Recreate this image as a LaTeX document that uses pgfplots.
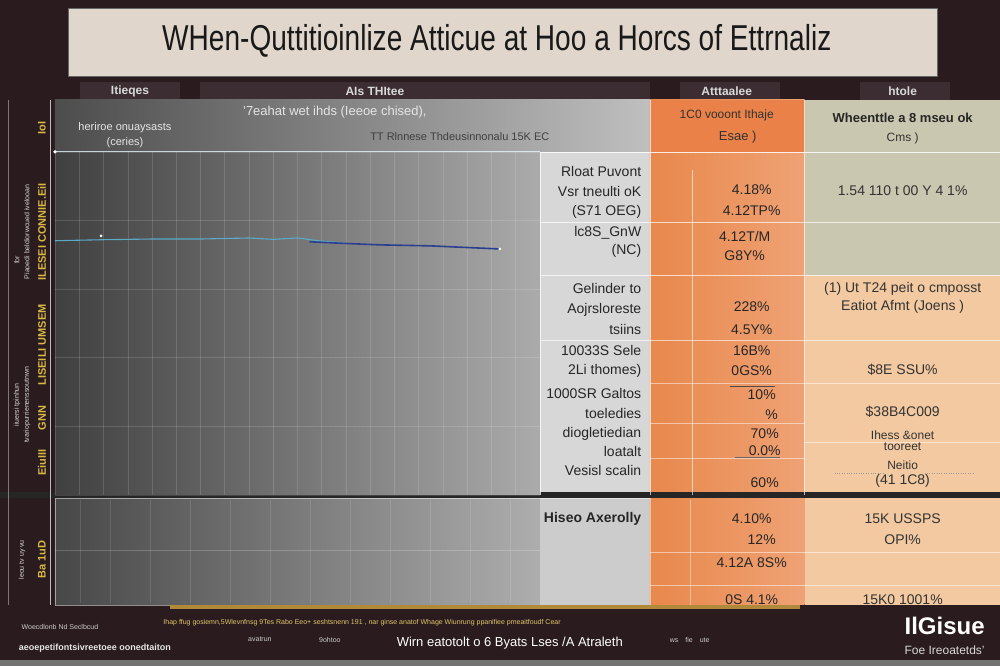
\documentclass[border=0pt]{standalone}
\usepackage{pgfplots}
\pgfplotsset{compat=1.18}
\usepackage{fontspec}
\setmainfont{Liberation Sans}
\definecolor{bgd}{HTML}{2A1B1F}
\definecolor{titlebg}{HTML}{E0D6CC}
\definecolor{hdr}{HTML}{3B2D31}
\definecolor{org}{HTML}{E8884C}
\definecolor{orgl}{HTML}{EFA275}
\definecolor{olive}{HTML}{C9C7AF}
\definecolor{peach}{HTML}{F2C9A0}
\definecolor{lgray}{HTML}{D7D7D7}
\definecolor{ylw}{HTML}{D9B843}
\definecolor{gold}{HTML}{B08A3A}
\definecolor{cyanl}{HTML}{5AAAC8}
\definecolor{dblue}{HTML}{2B3F8F}
\newcommand{\fs}[1]{\fontsize{#1}{#1}\selectfont}
\begin{document}
\begin{tikzpicture}
\begin{axis}[at={(500pt,333pt)}, anchor=center, width=1000pt, height=666pt, scale only axis,
  xmin=0, xmax=1000, ymin=0, ymax=666, y dir=reverse, hide axis, clip=false]
% background
\fill[bgd] (0,0) rectangle (1000,666);
\fill[black!55] (0,660) rectangle (1000,666);
% title box
\fill[titlebg] (68,8) rectangle (938,76);
\draw[black!60, line width=0.6pt] (68,8) rectangle (938,76);
\node[xscale=0.78, font=\fs{36}, black!90] at (497,41) {WHen-Quttitioinlize Atticue at Hoo a Horcs of Ettrnaliz};
% header labels
\fill[hdr] (80,82) rectangle (180,100);
\fill[hdr] (200,82) rectangle (650,100);
\fill[hdr] (680,82) rectangle (780,100);
\fill[hdr] (860,82) rectangle (950,100);
\node[white!85!black, font=\bfseries\fs{12}] at (130,91) {Itieqes};
\node[white!85!black, font=\bfseries\fs{12}] at (375,91) {AIs THItee};
\node[white!85!black, font=\bfseries\fs{12}] at (727,91) {Atttaalee};
\node[white!85!black, font=\bfseries\fs{12}] at (903,91) {htole};
% top row gray gradient
\shade[left color=black!70, right color=black!25] (55,100) rectangle (650,152);
% light gray column
\fill[lgray] (540,152) rectangle (650,495);
% orange column
\shade[left color=org, right color=orgl] (650,100) rectangle (805,495);
\fill[org!95!red] (650,100) rectangle (805,152);
% right column
\fill[olive] (805,100) rectangle (1000,275);
\fill[peach] (805,275) rectangle (1000,495);
% bottom panel
\shade[left color=black!72, right color=black!32] (55,498) rectangle (540,605);
\fill[lgray!95!black] (540,498) rectangle (650,605);
\shade[left color=org, right color=orgl] (650,498) rectangle (805,605);
\fill[peach] (805,498) rectangle (1000,605);
\pgfplotsinvokeforeach{80,110,150,190,230,270,310,350,390,430,470,510}{\draw[white, opacity=0.12] (#1,500) -- (#1,603);}
\draw[white, opacity=0.2] (55,550) -- (540,550);
\draw[white, opacity=0.5] (55,498) rectangle (650,605);
\draw[white, opacity=0.5] (650,552) -- (1000,552);
\draw[white, opacity=0.5] (650,585) -- (1000,585);
\draw[white, opacity=0.4] (690,500) -- (690,605);
% separator
\fill[black!85] (0,492) rectangle (1000,498);
% left strip lines
\draw[white, opacity=0.7, line width=0.8pt] (50,100) -- (50,605);
\draw[white, opacity=0.4] (8,100) -- (8,605);
% table lines
\draw[white, opacity=0.85, line width=0.8pt] (55,152) -- (1000,152);
\draw[white, opacity=0.7] (540,222) -- (1000,222);
\draw[white, opacity=0.7] (540,275) -- (1000,275);
\draw[white, opacity=0.6] (540,340) -- (1000,340);
\draw[white, opacity=0.5] (650,383) -- (1000,383);
\draw[white, opacity=0.5] (650,423) -- (805,423);
\draw[white, opacity=0.5] (805,442) -- (1000,442);
\draw[white, opacity=0.5] (650,458) -- (805,458);
\draw[white, opacity=0.6] (692,170) -- (692,495);
\draw[white, opacity=0.7] (540,152) -- (540,495);
\draw[white, opacity=0.7] (650,100) -- (650,495);
\draw[white, opacity=0.7] (805,100) -- (805,495);
% top-row texts
\node[white!90!black, font=\fs{11}] at (125,128) {heriroe onuaysasts};
\node[white!90!black, font=\fs{11}] at (125,143) {(ceries)};
\node[white!90!black, font=\fs{13}] at (335,112) {'7eahat wet ihds (Ieeoe chised),};
\node[black!75, font=\fs{11}] at (460,137) {TT Rlnnese Thdeusinnonalu 15K EC};
\node[black!80, font=\fs{12}] at (727,115) {1C0 vooont Ithaje};
\node[black!80, font=\fs{13}] at (738,137) {Esae )};
\node[black!85, font=\bfseries\fs{13}] at (903,118) {Wheenttle a 8 mseu ok};
\node[black!80, font=\fs{12}] at (903,138) {Cms )};
% light gray column texts
\begin{scope}[every node/.style={anchor=east, black!85, font=\fs{14}}]
\node at (645,172) {Rloat Puvont};
\node at (645,192) {Vsr tneulti oK};
\node at (645,212) {(S71 OEG)};
\node at (645,233) {lc8S\_GnW};
\node at (645,251) {(NC)};
\node at (645,289) {Gelinder to};
\node at (645,310) {Aojrsloreste};
\node at (645,330) {tsiins};
\node at (645,351) {10033S Sele};
\node at (645,371) {2Li thomes)};
\node at (645,394) {1000SR Galtos};
\node at (645,414) {toeledies};
\node at (645,434) {diogletiedian};
\node at (645,452) {loatalt};
\node at (645,471) {Vesisl scalin};
\node at (645,519) {\bfseries Hiseo Axerolly};
\end{scope}
% orange column texts
\begin{scope}[every node/.style={black!85, font=\fs{14}}]
\node at (752,190) {4.18\%};
\node at (752,211) {4.12TP\%};
\node at (745,237) {4.12T/M};
\node at (745,256) {G8Y\%};
\node at (752,307) {228\%};
\node at (752,330) {4.5Y\%};
\node at (752,351) {16B\%};
\node at (752,371) {0GS\%};
\node at (762,395) {10\%};
\node at (772,415) {\%};
\node at (765,434) {70\%};
\node at (765,451) {0.0\%};
\node at (765,483) {60\%};
\node at (752,519) {4.10\%};
\node at (762,540) {12\%};
\node at (752,563) {4.12A 8S\%};
\node at (752,600) {0S 4.1\%};
\end{scope}
\draw[black!70] (730,386) -- (775,386);
\draw[black!60] (735,457) -- (780,457);
% right column texts
\begin{scope}[every node/.style={black!80, font=\fs{14}}]
\node at (903,191) {1.54 110 t 00 Y 4 1\%};
\node at (903,289) {(1) Ut T24 peit o cmposst};
\node at (903,307) {Eatiot Afmt (Joens )};
\node at (903,370) {\$8E SSU\%};
\node at (903,412) {\$38B4C009};
\node[font=\fs{12}] at (903,435) {Ihess \&onet};
\node[font=\fs{12}] at (903,447) {tooreet};
\node[font=\fs{12}] at (903,465) {Neitio};
\node at (903,481) {(41 1C8)};
\node at (903,519) {15K USSPS};
\node at (903,540) {OPI\%};
\node at (903,600) {15K0 1001\%};
\end{scope}
\draw[black!40, dotted] (835,473) -- (885,473);
\draw[black!40, dotted] (925,473) -- (975,473);
% left strip texts
\begin{scope}[every node/.style={rotate=90, ylw, font=\bfseries\fs{11}}]
\node at (42,128) {IoI};
\node at (42,232) {ILESEI CONNIE.EiI};
\node at (42,345) {LISEILI UMSEM};
\node at (42,418) {GNN};
\node at (42,463) {EiuIII};
\node at (42,560) {Ba 1uD};
\end{scope}
\begin{scope}[every node/.style={rotate=90, white!85!black, font=\fs{7}}]
\node at (27,232) {Piaoedi beldiorwcued ivelooan};
\node at (17,260) {for};
\node at (17,405) {iiuersi tpinhun};
\node at (27,405) {tvariopurrienenssoutnwn};
\node at (22,560) {leou tv uy vu};
\end{scope}
% footer
\fill[gold] (170,605) rectangle (800,609);
\node[ylw!80!white, font=\fs{7}, anchor=west] at (160,623) {Ihap ffug gosiemn,5Wlevnfnsg 9Tes Rabo Eeo+ seshtsnenn 191 , nar ginse anatof Whage Wiunrung ppanifiee pmeaitfoudf Cear};
\node[white!80!black, font=\fs{7}] at (60,627) {Woecdlonb Nd Seclbcud};
\node[white!90!black, font=\bfseries\fs{9}] at (95,648) {aeoepetifontsivreetoee oonedtaiton};
\node[white!80!black, font=\fs{7}] at (260,640) {avatrun};
\node[white!80!black, font=\fs{7}] at (330,640) {9ohtoo};
\node[white, font=\fs{13}] at (510,643) {Wirn eatotolt o 6 Byats Lses /A Atraleth};
\node[white!80!black, font=\fs{7}] at (690,640) {ws\quad fie\quad ute};
\node[white, font=\bfseries\fs{24}] at (945,626) {IlGisue};
\node[white!85!black, font=\fs{12}] at (945,650) {Foe Ireoatetds'};
\end{axis}
% plot area
\begin{axis}[at={(297.5pt,342.5pt)}, anchor=center, width=485pt, height=343pt, scale only axis,
  xmin=0, xmax=20, ymin=0, ymax=100, clip=false,
  axis background/.style={left color=black!75, right color=black!33},
  axis line style={draw=none}, major tick length=0pt,
  xtick={0,...,20}, ytick={0,20,...,100}, xticklabels={}, yticklabels={},
  grid=major, grid style={white, opacity=0.14}]
\addplot[white!90!cyan, line width=1pt, opacity=0.8] coordinates {(0,100) (8,100) (20,100)};
\addplot[white, mark=*, mark size=1.5pt, only marks] coordinates {(0,100)};
\addplot[cyanl, line width=1.1pt] coordinates {(0,74.1) (2,74.4) (4,74.6) (6,74.6) (8,74.9) (9,74.5) (10,74.9) (11,74.0) (12,73.4)};
\addplot[dblue, line width=1.6pt] coordinates {(10.5,73.8) (12,73.3) (13.4,72.9) (15.5,72.6) (18.35,71.7)};
\addplot[white, mark=*, mark size=1.2pt, only marks] coordinates {(1.9,75.5) (18.35,71.7)};
\end{axis}
\end{tikzpicture}
\end{document}
